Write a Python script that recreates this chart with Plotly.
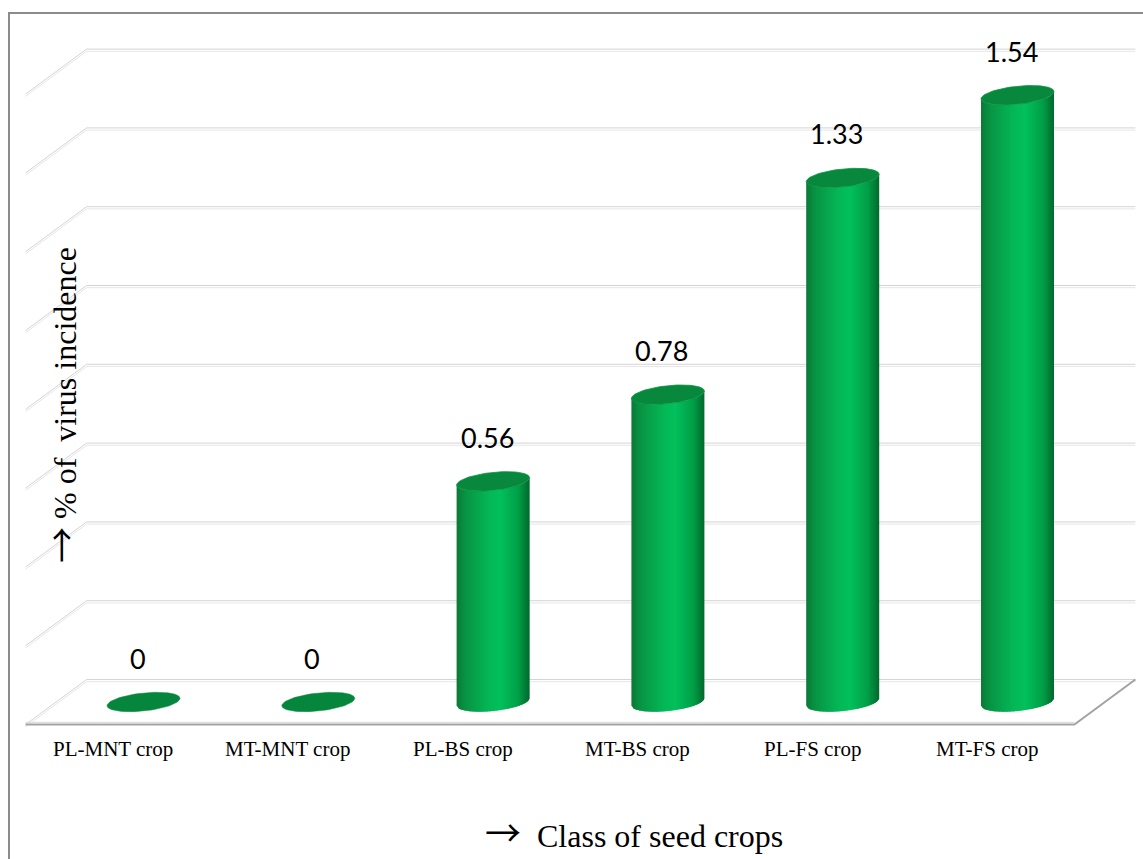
import numpy as np
import plotly.graph_objects as go

# ---------------- data ----------------
categories = ["PL-MNT crop", "MT-MNT crop", "PL-BS crop", "MT-BS crop", "PL-FS crop", "MT-FS crop"]
incidence = [0, 0, 0.56, 0.78, 1.33, 1.54]
value_labels = ["0", "0", "0.56", "0.78", "1.33", "1.54"]
grid_values = [0.2, 0.4, 0.6, 0.8, 1.0, 1.2, 1.4, 1.6]
ARROW = '<span style="font-family:Noto Sans CJK JP;font-size:%dpx">\u2192</span>'
x_title = (ARROW % 36) + "\u00a0 Class of seed crops"
y_title = (ARROW % 36) + " % of\u00a0 virus incidence"

# ---------------- scale / style ----------------
W, H = 1143, 859
PXX = 174.8      # px per category step
PXY = 394.0      # px per value unit
X0_PX = 143.5    # pixel x of first category centre
Y0_PX = 702.0    # pixel y of value 0 at mid depth
xr = [(0 - X0_PX) / PXX, (W - X0_PX) / PXX]
yr = [(Y0_PX - H) / PXY, Y0_PX / PXY]

DX = 30.5 / PXX   # half depth offset (x, category units)
DY = 22.5 / PXY   # half depth offset (y, value units)
A_PX, B_PX, SHEAR = 36.5, 9.0, 0.10   # cylinder radius / ellipse minor / tilt
N_STRIPS = 48

stops = [(0.0, (10, 122, 54)), (0.12, (8, 148, 67)), (0.45, (4, 184, 87)),
         (0.6, (2, 192, 92)), (0.85, (0, 158, 70)), (1.0, (0, 104, 44))]


def shade(t):
    for (t0, c0), (t1, c1) in zip(stops[:-1], stops[1:]):
        if t <= t1:
            f = (t - t0) / (t1 - t0) if t1 > t0 else 0
            c = [round(c0[k] + f * (c1[k] - c0[k])) for k in range(3)]
            return "rgb(%d,%d,%d)" % tuple(c)
    return "rgb(%d,%d,%d)" % stops[-1][1]


def front_arc(cx, cy, u):
    """point on lower (front) half of ellipse, u in [-1,1]"""
    u = max(-1.0, min(1.0, u))
    x = cx + u * A_PX / PXX
    y = cy + (-B_PX * np.sqrt(max(0.0, 1 - u * u)) + SHEAR * u * A_PX) / PXY
    return x, y


def ellipse(cx, cy, n=90):
    th = np.linspace(0, 2 * np.pi, n)
    x = cx + A_PX * np.cos(th) / PXX
    y = cy + (B_PX * np.sin(th) + SHEAR * A_PX * np.cos(th)) / PXY
    return list(x), list(y)


fig = go.Figure()


def line(xs, ys, color, width):
    fig.add_trace(go.Scatter(x=xs, y=ys, mode="lines", line=dict(color=color, width=width),
                             hoverinfo="skip", showlegend=False))


n = len(categories)
left, right = -0.5, n - 0.5

# floor
fx = [left - DX, right - DX, right + DX, left + DX, left - DX]
fy = [-DY, -DY, DY, DY, -DY]
fig.add_trace(go.Scatter(x=fx, y=fy, fill="toself", fillcolor="white", mode="lines",
                         line=dict(color="rgba(0,0,0,0)", width=0), hoverinfo="skip", showlegend=False))

# gridlines (back wall + side wall), drawn as double thin lines
off = 2.2 / PXY
for v in [0] + grid_values:
    for k, col in enumerate(["#d4d4d4", "#e6e6e6"]):
        o = -k * off
        line([left - DX, left + DX, right + DX], [v - DY + o, v + DY + o, v + DY + o], col, 1)

# floor edges
line([left - DX, right - DX], [-DY + 2.2 / PXY, -DY + 2.2 / PXY], "#dadada", 1)
line([left - DX, right - DX, right + DX], [-DY, -DY, DY], "#a3a3a3", 2)

# cylinders
for i, v in enumerate(incidence):
    if v <= 0:
        ex, ey = ellipse(i, 0)
        fig.add_trace(go.Scatter(x=ex, y=ey, fill="toself", fillcolor="rgb(6,134,60)", mode="lines",
                                 line=dict(color="rgb(6,134,60)", width=0.5),
                                 hoverinfo="skip", showlegend=False))
        continue
    us = np.linspace(-1, 1, N_STRIPS + 1)
    du = us[1] - us[0]
    for ua, ub in zip(us[:-1], us[1:]):
        c = shade((0.5 * (ua + ub) + 1) / 2)
        ub2 = min(1.0, ub + 0.7 * du)
        xa, ya0 = front_arc(i, 0, ua)
        xb, yb0 = front_arc(i, 0, ub2)
        _, ya1 = front_arc(i, v, ua)
        _, yb1 = front_arc(i, v, ub2)
        fig.add_trace(go.Scatter(x=[xa, xb, xb, xa, xa], y=[ya0, yb0, yb1, ya1, ya0],
                                 fill="toself", fillcolor=c, mode="none",
                                 hoverinfo="skip", showlegend=False))
    ex, ey = ellipse(i, v)
    fig.add_trace(go.Scatter(x=ex, y=ey, fill="toself", fillcolor="rgb(8,136,60)", mode="lines",
                             line=dict(color="rgb(10,148,66)", width=0.8),
                             hoverinfo="skip", showlegend=False))

annotations = []
for i, (v, t) in enumerate(zip(incidence, value_labels)):
    annotations.append(dict(x=i, y=v, text=t, showarrow=False, xshift=-6, yshift=44,
                            font=dict(family="Lato, Carlito, sans-serif", size=27, color="black")))
for i, c in enumerate(categories):
    annotations.append(dict(x=i - DX, y=-DY, text=c, showarrow=False, yshift=-24,
                            font=dict(family="Liberation Serif, Times New Roman, serif", size=21,
                                      color="black")))
annotations.append(dict(xref="paper", yref="paper", x=634 / W, y=1 - 831 / H, text=x_title,
                        showarrow=False, xanchor="center", yanchor="middle",
                        font=dict(family="Liberation Serif, Times New Roman, serif", size=32,
                                  color="black")))
annotations.append(dict(xref="paper", yref="paper", x=60 / W, y=1 - 405 / H, text=y_title,
                        showarrow=False, textangle=-90, xanchor="center", yanchor="middle",
                        font=dict(family="Liberation Serif, Times New Roman, serif", size=32,
                                  color="black")))

fig.update_layout(
    width=W, height=H, autosize=False,
    margin=dict(l=0, r=0, t=0, b=0),
    paper_bgcolor="white", plot_bgcolor="white",
    xaxis=dict(range=xr, visible=False, fixedrange=True),
    yaxis=dict(range=yr, visible=False, fixedrange=True),
    showlegend=False,
    annotations=annotations,
    shapes=[dict(type="rect", xref="paper", yref="paper", x0=9 / W, x1=1.05, y0=-0.05,
                 y1=1 - 13 / H, line=dict(color="#8c8c8c", width=2), layer="below")],
)

fig.write_html("out.html", config={"displayModeBar": False},
               post_script="document.body.style.margin='0px';document.body.style.overflow='hidden';")
